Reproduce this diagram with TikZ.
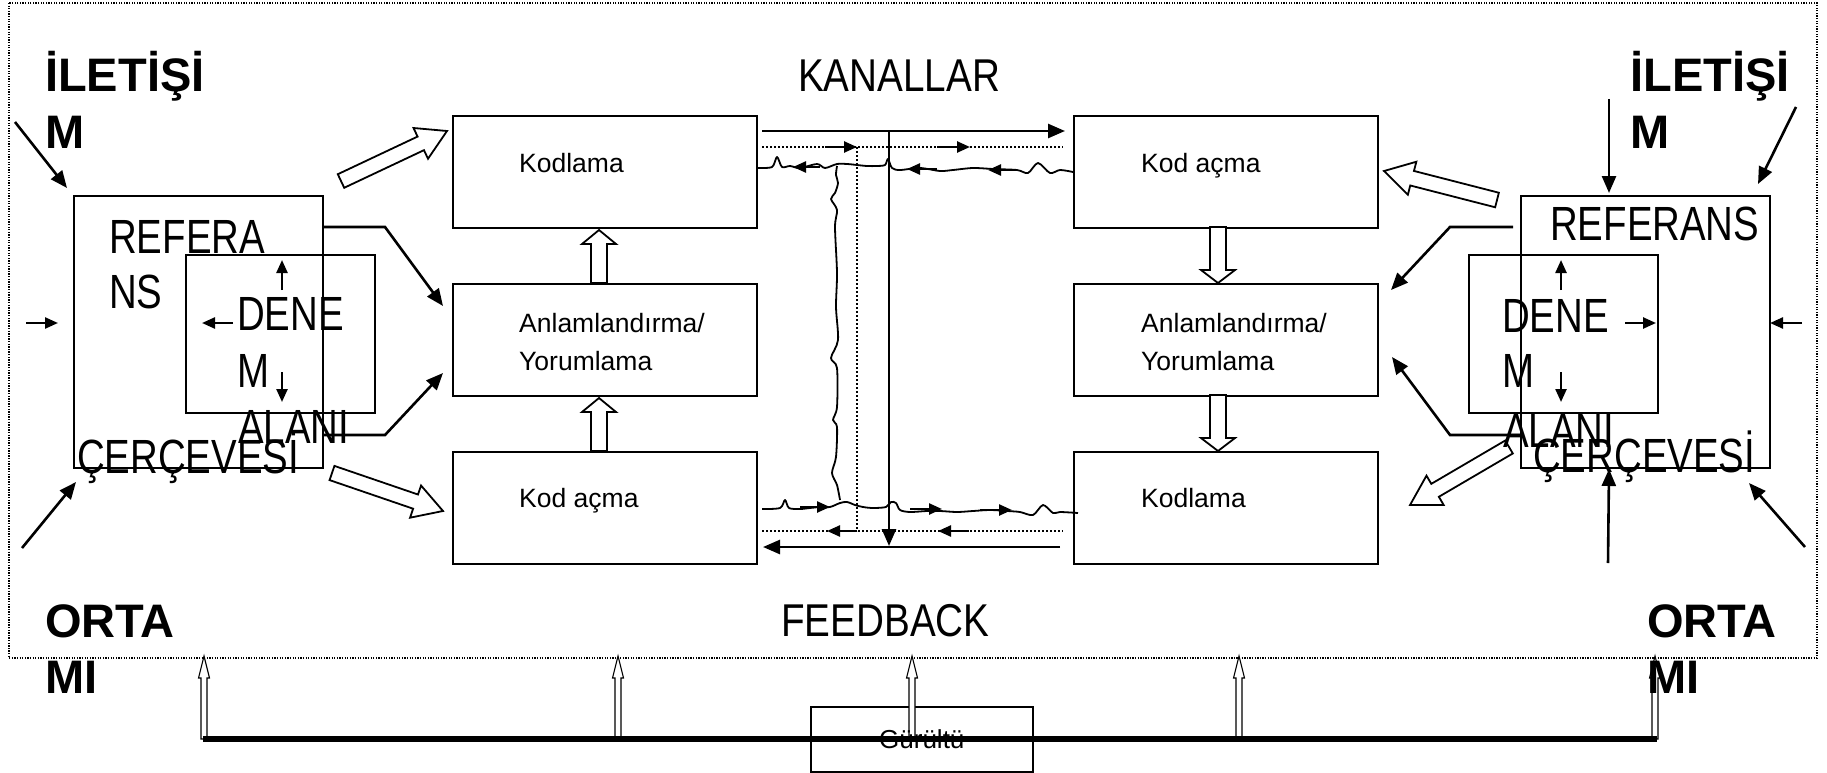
\documentclass[tikz,border=0pt]{standalone}
\usepackage{fontspec}
\setmainfont{Liberation Sans}
\usepackage{graphicx}
\usetikzlibrary{arrows.meta,calc}
\newcommand\cond[1]{\scalebox{0.8}[1]{#1}}
\newcommand\condk[1]{\scalebox{0.84}[1]{#1}}
\newcommand\blockarr[8][blk]{%
 \pgfmathsetmacro\baang{atan2(-(#5-#3),#4-#2)}%
 \pgfmathsetmacro\balen{veclen(#4-#2,#5-#3)}%
 \pgfmathsetmacro\babase{\balen-#8}%
 \begin{scope}[shift={(#2,#3)},rotate=\baang]
 \draw[#1] (0,#6) -- (\babase,#6) -- (\babase,#7) -- (\balen,0) -- (\babase,-#7) -- (\babase,-#6) -- (0,-#6) -- cycle;
 \end{scope}}
\begin{document}
\begin{tikzpicture}[x=1pt,y=-1pt,
  box/.style={draw,line width=1.8pt,inner sep=0pt,anchor=north west},
  blk/.style={draw,line width=1.8pt,fill=white,line join=miter},
  nblk/.style={draw,line width=1.1pt,fill=white},
  ar/.style={line width=2.6pt,-{Triangle[length=17pt,width=14pt]}},
  sar/.style={line width=2.4pt,-{Triangle[length=13pt,width=11pt]}},
  big/.style={inner sep=0pt,anchor=base west,font=\fontsize{48}{50}\selectfont},
  kbig/.style={inner sep=0pt,anchor=base west,font=\fontsize{46}{50}\selectfont},
  bld/.style={inner sep=0pt,anchor=base west,font=\fontsize{47}{50}\selectfont\bfseries},
  sml/.style={inner sep=0pt,anchor=base west,font=\fontsize{26.5}{30}\selectfont},
  wav/.style={line width=1.8pt,line join=round}]
\useasboundingbox (0,0) rectangle (1827,773);
\fill[white] (0,0) rectangle (1827,773);

% frame
\draw[line width=1.2pt,dash pattern=on 1.3pt off 1.3pt] (9,3) rectangle (1817,658);

% reference frames
\node[box,minimum width=249pt,minimum height=272pt] (refL) at (73,195) {};
\node[box,minimum width=189pt,minimum height=158pt] (denL) at (185,254) {};
\node[box,minimum width=249pt,minimum height=272pt] (refR) at (1520,195) {};
\node[box,minimum width=189pt,minimum height=158pt] (denR) at (1468,254) {};

% middle boxes
\node[box,minimum width=304pt,minimum height=112pt] (kodL) at (452,115) {};
\node[box,minimum width=304pt,minimum height=112pt] (anlL) at (452,283) {};
\node[box,minimum width=304pt,minimum height=112pt] (acL) at (452,451) {};
\node[box,minimum width=304pt,minimum height=112pt] (acR) at (1073,115) {};
\node[box,minimum width=304pt,minimum height=112pt] (anlR) at (1073,283) {};
\node[box,minimum width=304pt,minimum height=112pt] (kodR) at (1073,451) {};

\node[sml] (t1) at (519,172) {Kodlama};
\node[sml] (t2) at (519,332) {Anlamlandırma/};
\node[sml] (t3) at (519,370) {Yorumlama};
\node[sml] (t4) at (519,507) {Kod açma};
\node[sml] (t5) at (1141,172) {Kod açma};
\node[sml] (t6) at (1141,332) {Anlamlandırma/};
\node[sml] (t7) at (1141,370) {Yorumlama};
\node[sml] (t8) at (1141,507) {Kodlama};

% vertical block arrows
\blockarr{599}{283}{599}{230}{8}{17}{14}
\blockarr{599}{451}{599}{398}{8}{17}{14}
\blockarr{1218}{227}{1218}{283}{8}{17}{13}
\blockarr{1218}{395}{1218}{451}{8}{17}{13}

% diagonal block arrows
\blockarr{341}{181}{447}{131}{7.5}{17}{29}
\blockarr{332}{473}{443}{511}{7.5}{17}{29}
\blockarr{1497}{200}{1384}{171}{7.5}{17}{29}
\blockarr{1509}{447}{1410}{505}{7.5}{17}{29}

% connectors frame -> Anlamlandirma
\draw[ar] (refL.east |- 0,227) -- (385,227) -- (443,306);
\draw[ar] (refL.east |- 0,435) -- (385,435) -- (443,373);
\draw[ar] (1513,227) -- (1450,227) -- (1391,290);
\draw[ar] (refR.west |- 0,435) -- (1450,435) -- (1392,357);

% outer arrows left
\draw[ar] (15,122) -- (67,188);
\draw[ar] (22,548) -- (76,482);
\draw[sar] (26,323) -- (58,323);
% outer arrows right
\draw[ar] (1609,99) -- (1609,193);
\draw[ar] (1796,107) -- (1758,184);
\draw[ar] (1608,563) -- (1609,469);
\draw[ar] (1805,547) -- (1749,483);
\draw[sar] (1802,323) -- (1770,323);

% arrows inside DENEM boxes
\draw[sar] (282,290) -- (282,260);
\draw[sar] (233,323) -- (202,323);
\draw[sar] (282,372) -- (282,402);
\draw[sar] (1561,290) -- (1561,260);
\draw[sar] (1625,323) -- (1656,323);
\draw[sar] (1561,372) -- (1561,402);

% channels
\draw[ar] (762,131) -- (1065,131);
\draw[ar] (889,131) -- (889,546);
\draw[ar] (1060,547) -- (763,547);
\draw[line width=1.6pt,dash pattern=on 2pt off 2pt] (762,147) -- (1063,147);
\draw[line width=1.6pt,dash pattern=on 2pt off 2pt] (762,531) -- (1063,531);
\draw[line width=1.6pt,dash pattern=on 2pt off 2pt] (857,147) -- (857,531);
\draw[wav] plot[smooth,tension=0.5] coordinates {(757,168) (772,167) (777,157) (782,167) (790,166) (800,168) (817,164) (825,168) (837,164) (847,164) (857,165) (867,166) (877,166) (885,165) (888,159) (892,168) (900,170) (920,168) (940,171) (953,170) (973,168) (993,169) (1017,170) (1028,173) (1038,163) (1050,173) (1060,170) (1073,172)};
\draw[wav] plot[smooth,tension=0.5] coordinates {(762,509) (780,508) (785,500) (789,508) (800,509) (810,508) (820,507) (830,507) (840,503) (847,502) (855,505) (863,507) (873,508) (886,507) (891,502) (896,503) (900,510) (910,512) (927,511) (940,511) (957,512) (973,511) (990,510) (1007,511) (1020,512) (1033,515) (1043,505) (1053,513) (1060,512) (1078,513)};
\draw[wav] plot[smooth,tension=0.5] coordinates {(837,166) (836,175) (838,183) (835,193) (831,199) (837,210) (835,227) (837,273) (836,307) (838,340) (831,358) (837,368) (837,407) (833,420) (837,427) (836,457) (832,473) (837,485) (840,500)};
% arrowheads on channels
\draw[sar] (825,147) -- (857,147);
\draw[sar] (937,147) -- (970,147);
\draw[sar] (857,531) -- (827,531);
\draw[sar] (969,531) -- (938,531);
\draw[sar] (820,167) -- (793,167);
\draw[sar] (937,169) -- (907,169);
\draw[sar] (1017,170) -- (988,170);
\draw[sar] (800,507) -- (830,507);
\draw[sar] (910,509) -- (942,509);
\draw[sar] (980,510) -- (1012,510);

% noise
\node[draw,line width=1.6pt,fill=white,minimum width=222pt,minimum height=65pt,inner sep=0pt,anchor=north west] (gur) at (810,706) {};
\foreach \xx in {204,618,912,1239,1655} {\blockarr[nblk]{\xx}{739}{\xx}{656}{3}{5.5}{22}}
\node[inner sep=0pt,font=\fontsize{26}{30}\selectfont] at (gur.center) {Gürültü};
\draw[line width=6pt] (203,739) -- (1657,739);

% big labels
\node[kbig] (kan) at (798,92) {\condk{KANALLAR}};
\node[kbig] (fb) at (781,636) {\condk{FEEDBACK}};
\node[big] at (109,253) {\cond{REFERA}};
\node[big] at (109,308) {\cond{NS}};
\node[big] at (237,330) {\cond{DENE}};
\node[big] at (237,387) {\cond{M}};
\node[big] at (238,443) {\cond{ALANI}};
\node[big] at (77,473) {\cond{ÇERÇEVESİ}};
\node[big] at (1550,240) {\cond{REFERANS}};
\node[big] at (1502,332) {\cond{DENE}};
\node[big] at (1502,387) {\cond{M}};
\node[big] at (1503,447) {\cond{ALANI}};
\node[big] at (1533,472) {\cond{ÇERÇEVESİ}};
\node[bld] at (45,92) {İLETİŞİ};
\node[bld] at (45,148) {M};
\node[bld] at (45,637) {ORTA};
\node[bld] at (45,693) {MI};
\node[bld] at (1630,92) {İLETİŞİ};
\node[bld] at (1630,148) {M};
\node[bld] at (1647,637) {ORTA};
\node[bld] at (1647,693) {MI};
\end{tikzpicture}
\end{document}
